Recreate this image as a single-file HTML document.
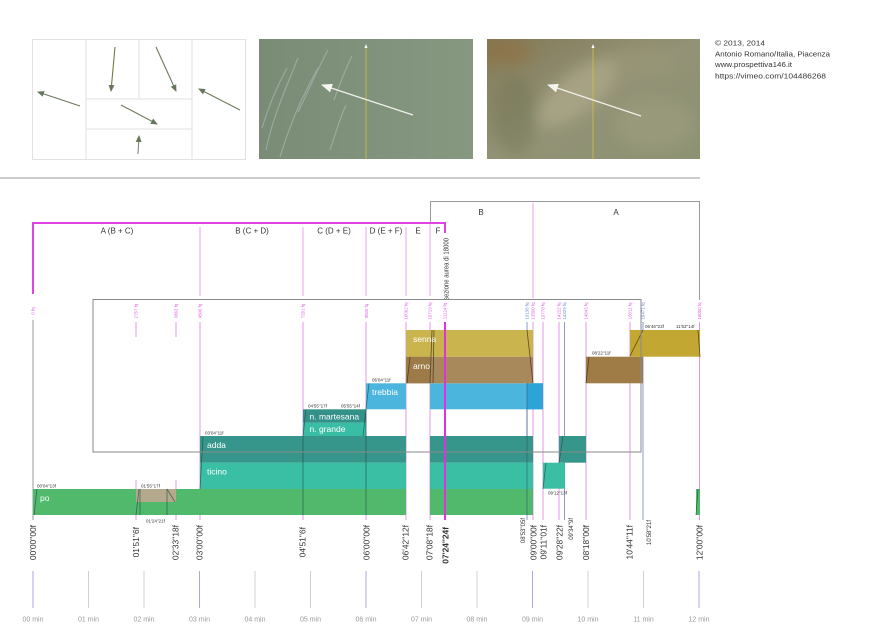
<!DOCTYPE html>
<html><head><meta charset="utf-8"><style>
html,body{margin:0;padding:0;background:#fff;}
svg{display:block;}
</style></head><body>
<svg width="895" height="644" viewBox="0 0 895 644" xmlns="http://www.w3.org/2000/svg" font-family="'Liberation Sans', sans-serif">
<defs>
<marker id="ah" markerWidth="7" markerHeight="6" refX="6" refY="3" orient="auto" markerUnits="userSpaceOnUse"><path d="M0,0 L7,3 L0,6 z" fill="#66765c"/></marker>
<marker id="wh" markerWidth="11" markerHeight="9" refX="10" refY="4.5" orient="auto" markerUnits="userSpaceOnUse"><path d="M0,0 L11,4.5 L0,9 z" fill="#f4f4f0"/></marker>
<linearGradient id="p1" x1="0" y1="0" x2="1" y2="0"><stop offset="0" stop-color="#7a8c76"/><stop offset="1" stop-color="#869880"/></linearGradient>
<linearGradient id="p2" x1="0" y1="0" x2="1" y2="1"><stop offset="0" stop-color="#827a58"/><stop offset="0.5" stop-color="#939276"/><stop offset="1" stop-color="#8c9272"/></linearGradient>
<filter id="bl" x="-30%" y="-30%" width="160%" height="160%"><feGaussianBlur stdDeviation="7"/></filter>
<clipPath id="c2"><rect x="487" y="39" width="213" height="120"/></clipPath>
</defs>
<rect width="895" height="644" fill="#fff"/>

<!-- left diagram -->
<g stroke="#e2e2e2" fill="none" stroke-width="1">
<rect x="32.5" y="39.5" width="213" height="120"/>
<line x1="86" y1="39.5" x2="86" y2="159.5"/>
<line x1="139" y1="39.5" x2="139" y2="99"/>
<line x1="192" y1="39.5" x2="192" y2="159.5"/>
<line x1="86" y1="99" x2="192" y2="99"/>
<line x1="86" y1="129" x2="192" y2="129"/>
</g>
<g stroke="#6b7b60" stroke-width="1.1" marker-end="url(#ah)">
<line x1="80" y1="106" x2="38" y2="92"/>
<line x1="115" y1="47" x2="111" y2="91" stroke="#6e7a40"/>
<line x1="156" y1="47" x2="176" y2="91"/>
<line x1="240" y1="110" x2="199" y2="89"/>
<line x1="121" y1="105" x2="157" y2="124"/>
<line x1="138" y1="154" x2="139" y2="136" stroke="#888"/>
</g>

<!-- photo 1 -->
<rect x="259" y="39" width="214" height="120" fill="url(#p1)"/>
<g stroke="#b7c4c4" stroke-width="1.2" fill="none" opacity="0.5">
<path d="M266,150 C272,120 283,95 298,58"/>
<path d="M280,157 C290,125 300,100 318,68"/>
<path d="M298,112 C308,92 316,72 328,50"/>
<path d="M334,100 C339,86 344,72 352,56"/>
<path d="M262,128 C268,108 276,88 287,68"/>
<path d="M330,150 C336,132 340,118 346,105"/>
</g>
<line x1="366" y1="46" x2="366" y2="159" stroke="#d2c040" stroke-width="1" opacity="0.8"/>
<path d="M364.5,48 L366,44 L367.5,48 z" fill="#fff"/>
<line x1="413" y1="115" x2="322" y2="85" stroke="#f0f0ea" stroke-width="1.3" marker-end="url(#wh)"/>

<!-- photo 2 -->
<rect x="487" y="39" width="213" height="120" fill="url(#p2)"/>
<g clip-path="url(#c2)">
<g filter="url(#bl)">
<ellipse cx="505" cy="52" rx="28" ry="14" fill="#946a38" opacity="0.45"/>
<ellipse cx="515" cy="115" rx="22" ry="40" fill="#6c7350" opacity="0.4"/>
<ellipse cx="578" cy="92" rx="50" ry="20" transform="rotate(-38 578 92)" fill="#b8b292" opacity="0.55"/>
<ellipse cx="655" cy="125" rx="40" ry="26" fill="#a6a482" opacity="0.4"/>
<ellipse cx="640" cy="60" rx="35" ry="16" fill="#9c9a78" opacity="0.45"/>
</g>
</g>
<line x1="593" y1="46" x2="593" y2="159" stroke="#d2c040" stroke-width="1" opacity="0.8"/>
<path d="M591.5,48 L593,44 L594.5,48 z" fill="#fff"/>
<line x1="641" y1="116" x2="548" y2="85" stroke="#f0f0ea" stroke-width="1.3" marker-end="url(#wh)"/>

<!-- copyright -->
<g font-size="7.5" fill="#333">
<text x="715" y="45.5" textLength="50" lengthAdjust="spacingAndGlyphs">© 2013, 2014</text>
<text x="715" y="56.5" textLength="115" lengthAdjust="spacingAndGlyphs">Antonio Romano/Italia, Piacenza</text>
<text x="715" y="67" textLength="77" lengthAdjust="spacingAndGlyphs">www.prospettiva146.it</text>
<text x="715" y="78.5" textLength="111" lengthAdjust="spacingAndGlyphs">https://vimeo.com/104486268</text>
</g>

<line x1="0" y1="178" x2="700" y2="178" stroke="#999" stroke-width="1"/>

<!-- top gray bracket -->
<path d="M430.5,222 V201.5 H699.5 V300" fill="none" stroke="#9a9a9a" stroke-width="1"/>
<line x1="533" y1="203" x2="533" y2="298" stroke="#eaa6ea" stroke-width="1"/>
<g font-size="8" fill="#333" text-anchor="middle">
<text x="481" y="215">B</text>
<text x="616" y="215">A</text>
</g>

<!-- header dividers -->
<g stroke="#eaa6ea" stroke-width="1">
<line x1="200" y1="227" x2="200" y2="296"/>
<line x1="303" y1="227" x2="303" y2="296"/>
<line x1="366" y1="227" x2="366" y2="296"/>
<line x1="406" y1="227" x2="406" y2="296"/>
<line x1="430" y1="222" x2="430" y2="296"/>
</g>
<!-- magenta bracket -->
<path d="M33,294 V223 H445 V233" fill="none" stroke="#e044e0" stroke-width="2"/>
<g font-size="8" fill="#333" text-anchor="middle">
<text x="117" y="233.5">A (B + C)</text>
<text x="252" y="233.5">B (C + D)</text>
<text x="334" y="233.5">C (D + E)</text>
<text x="386" y="233.5">D (E + F)</text>
<text x="418" y="233.5">E</text>
<text x="438" y="233.5">F</text>
</g>
<text transform="translate(448.5,300) rotate(-90)" font-size="7" fill="#333" textLength="62" lengthAdjust="spacingAndGlyphs">sezione aurea di 18000</text>

<!-- vertical lines behind bars -->
<g stroke="#e594e5" stroke-width="1">
<line x1="200" y1="322" x2="200" y2="520"/>
<line x1="303" y1="322" x2="303" y2="520"/>
<line x1="366" y1="322" x2="366" y2="520"/>
<line x1="406" y1="322" x2="406" y2="520"/>
<line x1="430" y1="322" x2="430" y2="520"/>
<line x1="533" y1="322" x2="533" y2="520"/>
<line x1="543" y1="322" x2="543" y2="520"/>
<line x1="559" y1="322" x2="559" y2="520"/>
<line x1="586" y1="322" x2="586" y2="520"/>
<line x1="630" y1="322" x2="630" y2="520"/>
<line x1="699.5" y1="322" x2="699.5" y2="520"/>
<line x1="136" y1="322" x2="136" y2="337"/>
<line x1="176" y1="322" x2="176" y2="337"/>
<line x1="136" y1="480" x2="136" y2="520"/>
<line x1="176" y1="480" x2="176" y2="520"/>
</g>
<g stroke="#8a9ccc" stroke-width="1">
<line x1="527" y1="322" x2="527" y2="520"/>
<line x1="564.5" y1="322" x2="564.5" y2="520"/>
<line x1="643" y1="322" x2="643" y2="520"/>
</g>
<line x1="33" y1="320" x2="33" y2="520" stroke="#999" stroke-width="1"/>

<!-- bars -->
<rect x="33" y="489" width="373" height="26" fill="#50b96b"/>
<rect x="430" y="489" width="103" height="26" fill="#50b96b"/>
<rect x="696" y="489" width="4" height="26" fill="#50b96b"/>
<rect x="136" y="489" width="40" height="13" fill="#b4a98c"/>
<rect x="200" y="462.7" width="206" height="26.3" fill="#3bbfa4"/>
<rect x="430" y="462.7" width="103" height="26.3" fill="#3bbfa4"/>
<rect x="543" y="462.7" width="22" height="26" fill="#3bbfa4"/>
<rect x="200" y="436" width="206" height="26.7" fill="#36968b"/>
<rect x="430" y="436" width="103" height="26.7" fill="#36968b"/>
<rect x="559" y="436" width="27" height="26.7" fill="#36968b"/>
<rect x="303" y="422.7" width="63" height="13.3" fill="#3abda5"/>
<rect x="303" y="409.3" width="63" height="13.4" fill="#33918a"/>
<rect x="366" y="383.3" width="40" height="26" fill="#4bb5de"/>
<rect x="430" y="383.3" width="113" height="26" fill="#4bb5de"/>
<rect x="527" y="383.3" width="16" height="26" fill="#2ca4d6"/>
<rect x="406" y="356.7" width="127" height="26.6" fill="#a8895b"/>
<rect x="406" y="356.7" width="24" height="26.6" fill="#9c7b48"/>
<rect x="586" y="356.7" width="57" height="26.6" fill="#9f7c45"/>
<rect x="406" y="330" width="127" height="26.7" fill="#c9b44e"/>
<rect x="630" y="330" width="70" height="26.7" fill="#c2a733"/>

<!-- dark overlays in bars -->
<g stroke="#1e4a40" stroke-width="0.8" opacity="0.7" fill="none">
<line x1="34" y1="515" x2="37" y2="489"/>
<line x1="136" y1="515" x2="139" y2="489"/>
<line x1="140" y1="489" x2="140" y2="515"/>
<line x1="167" y1="489" x2="167" y2="515"/>
<line x1="167" y1="489" x2="175" y2="502"/>
<line x1="200" y1="489" x2="203" y2="437"/>
<line x1="303" y1="436" x2="303" y2="515"/>
<line x1="303" y1="436" x2="306" y2="409.5"/>
<line x1="366" y1="409" x2="366" y2="515"/>
<line x1="363" y1="436" x2="366" y2="409.5"/>
<line x1="366" y1="409" x2="369" y2="383.5"/>
<line x1="543" y1="489" x2="546" y2="463"/>
<line x1="559" y1="463" x2="563" y2="436"/>
<line x1="696" y1="515" x2="698" y2="489"/>
</g>
<g stroke="#3a2a10" stroke-width="0.8" opacity="0.75" fill="none">
<line x1="407" y1="383" x2="410" y2="357"/>
<line x1="430" y1="383" x2="432" y2="330"/>
<line x1="433" y1="383" x2="434" y2="330"/>
<line x1="527" y1="330" x2="533" y2="383"/>
<line x1="586" y1="383" x2="589" y2="357"/>
<line x1="630" y1="356" x2="643" y2="330"/>
<line x1="698" y1="330" x2="700" y2="357"/>
</g>
<line x1="527" y1="383" x2="527" y2="515" stroke="#2a4a6a" stroke-width="0.8" opacity="0.6"/>

<!-- gray box -->
<rect x="93" y="299.5" width="548" height="152.5" fill="none" stroke="#8a8a8a" stroke-width="1"/>

<!-- magenta golden section line -->
<line x1="445" y1="322" x2="445" y2="520" stroke="#dd33dd" stroke-width="2"/>

<!-- fq labels -->
<g font-size="4.4" fill="#e060e0" text-anchor="middle">
<text transform="translate(34.5,311) rotate(-90)">0 fq</text>
<text transform="translate(137.5,311) rotate(-90)">2767 fq</text>
<text transform="translate(177.5,311) rotate(-90)">3863 fq</text>
<text transform="translate(201.5,311) rotate(-90)">4500 fq</text>
<text transform="translate(304.5,311) rotate(-90)">7281 fq</text>
<text transform="translate(368,311) rotate(-90)">9000 fq</text>
<text transform="translate(407.5,311) rotate(-90)">10062 fq</text>
<text transform="translate(431.5,311) rotate(-90)">10719 fq</text>
<text transform="translate(446.5,311) rotate(-90)">11124 fq</text>
<text transform="translate(534.5,311) rotate(-90)">13500 fq</text>
<text transform="translate(544.5,311) rotate(-90)">13778 fq</text>
<text transform="translate(560.5,311) rotate(-90)">14222 fq</text>
<text transform="translate(587.5,311) rotate(-90)">14643 fq</text>
<text transform="translate(631.5,311) rotate(-90)">16011 fq</text>
<text transform="translate(701,311) rotate(-90)">18000 fq</text>
</g>
<g font-size="4.4" fill="#6a8cc8" text-anchor="middle">
<text transform="translate(528.5,311) rotate(-90)">13136 fq</text>
<text transform="translate(566,311) rotate(-90)">14329 fq</text>
<text transform="translate(644.5,311) rotate(-90)">16471 fq</text>
</g>

<!-- bar labels -->
<g font-size="8.5" fill="#fff">
<text x="40" y="501">po</text>
<text x="207" y="474.5">ticino</text>
<text x="207" y="448">adda</text>
<text x="309.5" y="432">n. grande</text>
<text x="309.5" y="419.5">n. martesana</text>
<text x="372" y="395">trebbia</text>
<text x="413" y="342">senna</text>
<text x="413" y="369">arno</text>
</g>

<!-- tiny time labels -->
<g font-size="4.5" fill="#333">
<text x="37" y="487.5">00'04''13f</text>
<text x="141" y="487.5">01'55''17f</text>
<text x="146" y="522.5">01'24''21f</text>
<text x="205" y="434.5">03'04''11f</text>
<text x="308" y="407.5">04'55''17f</text>
<text x="341" y="407.5">05'55''14f</text>
<text x="372" y="381.5">06'04''11f</text>
<text x="592" y="354.5">08'22''11f</text>
<text x="645" y="328">06'46''23f</text>
<text x="676" y="328">11'53''14f</text>
<text x="548" y="494.5">09'12''13f</text>
</g>

<!-- bottom time labels -->
<g font-size="8.4" fill="#333" text-anchor="end">
<text transform="translate(36,525) rotate(-90)">00'00''00f</text>
<text transform="translate(139,527) rotate(-90)">01'51''6f</text>
<text transform="translate(178.7,525) rotate(-90)">02'33''18f</text>
<text transform="translate(202.3,525) rotate(-90)">03'00''00f</text>
<text transform="translate(305.7,527) rotate(-90)">04'51''6f</text>
<text transform="translate(369.7,525) rotate(-90)">06'00''00f</text>
<text transform="translate(408.7,525) rotate(-90)">06'42''12f</text>
<text transform="translate(432.3,525) rotate(-90)">07'08''18f</text>
<text transform="translate(448.3,527) rotate(-90)" font-weight="bold">07'24''24f</text>
<text transform="translate(536.3,525) rotate(-90)">09'00''00f</text>
<text transform="translate(546.3,525) rotate(-90)">09'11''01f</text>
<text transform="translate(562.3,525) rotate(-90)">09'28''22f</text>
<text transform="translate(589,525) rotate(-90)">08'18''00f</text>
<text transform="translate(632.3,525) rotate(-90)">10'44''11f</text>
<text transform="translate(702.3,525) rotate(-90)">12'00''00f</text>
</g>
<g font-size="6" fill="#333" text-anchor="end">
<text transform="translate(525,518) rotate(-90)">08'53''05f</text>
<text transform="translate(573,518) rotate(-90)">09'34''9f</text>
<text transform="translate(651,520) rotate(-90)">10'58''21f</text>
</g>

<!-- bottom ruler -->
<g stroke-width="1">
<line x1="33" y1="571" x2="33" y2="608" stroke="#a8a8e0"/>
<line x1="88.5" y1="571" x2="88.5" y2="608" stroke="#d0d0d0"/>
<line x1="144" y1="571" x2="144" y2="608" stroke="#d0d0d0"/>
<line x1="199.5" y1="571" x2="199.5" y2="608" stroke="#a8a8e0"/>
<line x1="255" y1="571" x2="255" y2="608" stroke="#d0d0d0"/>
<line x1="310.5" y1="571" x2="310.5" y2="608" stroke="#d0d0d0"/>
<line x1="366" y1="571" x2="366" y2="608" stroke="#a8a8e0"/>
<line x1="421.5" y1="571" x2="421.5" y2="608" stroke="#d0d0d0"/>
<line x1="477" y1="571" x2="477" y2="608" stroke="#d0d0d0"/>
<line x1="532.5" y1="571" x2="532.5" y2="608" stroke="#a8a8e0"/>
<line x1="588" y1="571" x2="588" y2="608" stroke="#d0d0d0"/>
<line x1="643.5" y1="571" x2="643.5" y2="608" stroke="#d0d0d0"/>
<line x1="699" y1="571" x2="699" y2="608" stroke="#a8a8e0"/>
</g>
<g font-size="7" fill="#999" text-anchor="middle">
<text x="33" y="621.5">00 min</text>
<text x="88.5" y="621.5">01 min</text>
<text x="144" y="621.5">02 min</text>
<text x="199.5" y="621.5">03 min</text>
<text x="255" y="621.5">04 min</text>
<text x="310.5" y="621.5">05 min</text>
<text x="366" y="621.5">06 min</text>
<text x="421.5" y="621.5">07 min</text>
<text x="477" y="621.5">08 min</text>
<text x="532.5" y="621.5">09 min</text>
<text x="588" y="621.5">10 min</text>
<text x="643.5" y="621.5">11 min</text>
<text x="699" y="621.5">12 min</text>
</g>
</svg>
</body></html>
